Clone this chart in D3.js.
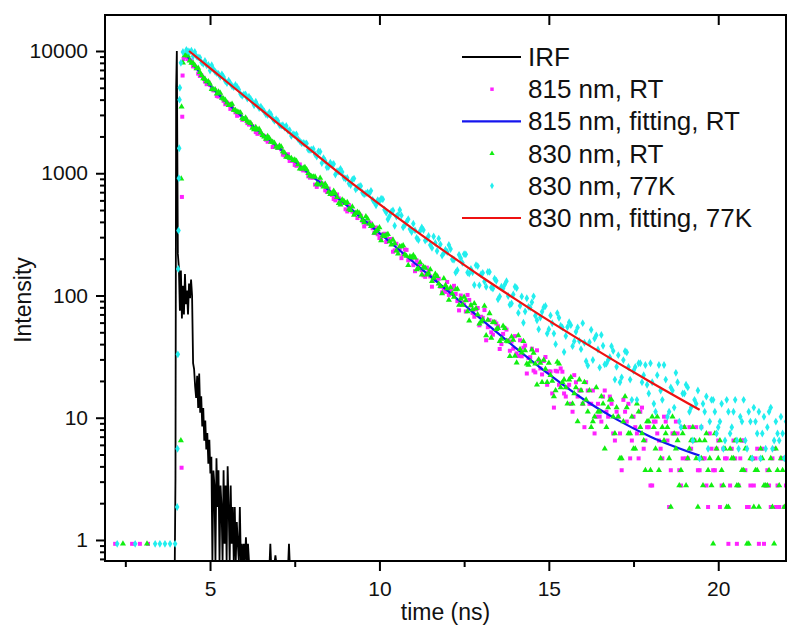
<!DOCTYPE html>
<html>
<head>
<meta charset="utf-8">
<script src="https://cdn.jsdelivr.net/npm/d3@7"></script>
<style>
  body { margin: 0; background: #fff; }
  svg { display: block; font-family: "Liberation Sans", Arial, sans-serif; }
</style>
</head>
<body>
<div id="chart"></div>
<script>
// decay channels: 4.3 … 22.0 ns and the in-between channels 4.35 … 21.95 ns
const decayTimes = d3.range(178).map(i => +(4.3 + i * 0.1).toFixed(2));
const midTimes = d3.range(177).map(i => +(4.35 + i * 0.1).toFixed(2));

// 815 nm, RT (magenta squares)
const rt815 = [
    8910, 8440, 7490, 7230, 6250, 6040, 5350, 5280, 4760, 4290,
    4300, 3910, 3780, 3360, 3310, 2950, 2990, 2760, 2570, 2520,
    2320, 2100, 2120, 2010, 1810, 1830, 1670, 1610, 1570, 1400,
    1430, 1284, 1170, 1180, 1080, 1070, 944, 935, 807, 862,
    797, 724, 748, 665, 600, 624, 588, 507, 548, 486,
    469, 465, 407, 389, 396, 355, 360, 295, 316, 274,
    279, 228, 265, 243, 216, 236, 202, 177, 193, 181,
    146, 169, 143, 140, 143, 118, 114, 129, 110, 120,
    90, 100, 84, 101, 83, 67, 79, 67, 76, 55,
    50, 61, 56, 40, 54, 43, 42, 46.5, 32, 31.8,
    39, 30.8, 36.7, 23.5, 29.3, 22.6, 31.4, 23.9, 15.8, 24.2,
    18.6, 23.8, 14.9, 18.6, 11.2, 19.5, 16.7, 13.0, 19.5, 13.0,
    16.7, 10.2, 10.2, 14.9, 11.2, 14.9, 7.44, 11.2, 7.44, 14.0,
    9.3, 4.65, 10.2, 7.44, 11.2, 5.58, 8.37, 2.79, 9.3, 7.44,
    5.58, 10.2, 6.51, 3.72, 7.44, 7.44, 2.79, 8.37, 4.65, 5.58,
    6.51, 3.72, 8.37, 4.65, 1.86, 5.58, 3.72, 6.51, 2.79, 4.65,
    0.93, 5.58, 4.65, 2.79, 6.51, 3.72, 1.86, 4.65, 4.65, 0.93,
    5.58, 2.79, 2.79, 4.65, 1.86, 1.86, 4.65, 2.79
];
const rt815Mid = [
    8590, 8250, 7490, 6530, 6290, 5630, 5550,
    4920, 4780, 4240, 4140, 3670, 3700, 3520, 3150, 3010, 2740,
    2790, 2500, 2430, 2170, 2200, 2040, 1880, 1880, 1640, 1660,
    1620, 1420, 1380, 1260, 1260, 1150, 1180, 1055, 1040, 920,
    917, 773, 843, 822, 704, 689, 616, 670, 578, 571,
    487, 522, 473, 430, 448, 367, 388, 388, 324, 317,
    294, 320, 290, 290, 234, 233, 202, 238, 194, 197,
    158, 182, 161, 142, 158, 118, 133, 137, 106, 107,
    101, 115, 103, 75.5, 88, 74, 92, 72, 77, 57,
    65.6, 43, 62.8, 47.8, 59, 36.5, 48.5, 52.6, 35.3, 36.7,
    33.6, 43, 37.4, 23, 31.3, 24.3, 35.6, 25.3, 29.1, 18.6,
    23.9, 12.1, 23.9, 25.3, 15.8, 17.7, 13.0, 22.3, 14.9, 16.7,
    8.37, 16.7, 13.0, 7.44, 13.0, 9.3, 16.7, 10.2, 13.0, 6.51,
    10.2, 3.72, 11.2, 13.0, 6.51, 8.37, 4.65, 12.1, 6.51, 8.37,
    2.79, 9.3, 6.51, 4.65, 9.3, 1.86, 7.44, 9.3, 3.72, 4.65,
    4.65, 8.37, 6.51, 8.37, 3.72, 4.65, 2.79, 7.44, 3.72, 5.58,
    1.86, 5.58, 4.65, 2.79, 6.51, 0.93, 4.65, 6.51, 1.86, 2.79,
    2.79, 5.58, 4.65, 0.93, 3.72, 1.86, 5.58, 2.79, 4.65, 1.86
];

// 830 nm, RT (green triangles)
const rt830 = [
    9400, 8340, 7970, 7200, 6710, 5950, 5630, 5370, 4840, 4460,
    4540, 4070, 3770, 3610, 3290, 3190, 3120, 2770, 2680, 2570,
    2280, 2270, 2150, 1990, 2010, 1800, 1770, 1610, 1650, 1470,
    1350, 1324, 1290, 1180, 1090, 1120, 1000, 940, 936, 804,
    825, 816, 702, 686, 681, 569, 607, 568, 511, 533,
    473, 473, 413, 442, 387, 376, 336, 360, 310, 313,
    277, 285, 232, 252, 256, 210, 208, 213, 163, 186,
    172, 148, 163, 139, 144, 119, 138, 114, 116, 97,
    113, 94, 97, 74, 83, 86, 70, 61, 82, 63,
    45, 60, 54, 44, 54, 42, 46, 32, 47, 34,
    35.5, 27, 36, 27.7, 30, 19.5, 25, 28, 20, 16.7,
    27.6, 19.5, 17.7, 20.5, 13.0, 17.7, 20.5, 13.0, 14.0, 16.7,
    9.3, 17.7, 11.2, 13.0, 8.37, 14.0, 10.2, 12.1, 4.65, 9.3,
    12.1, 7.44, 5.58, 13.0, 8.37, 6.51, 9.3, 3.72, 8.37, 10.2,
    4.65, 6.51, 8.37, 1.86, 7.44, 6.51, 3.72, 8.37, 4.65, 6.51,
    6.51, 1.86, 4.65, 6.51, 3.72, 2.79, 7.44, 4.65, 3.72, 5.58,
    1.86, 4.65, 6.51, 2.79, 3.72, 5.58, 0.93, 4.65, 3.72, 1.86,
    4.65, 2.79, 3.72, 1.86, 5.58, 2.79, 3.72, 1.86
];
const rt830Mid = [
    9150, 7970, 7640, 7270, 6320, 5890, 5620,
    4860, 4850, 4640, 4130, 3980, 3600, 3680, 3270, 3150, 2830,
    2850, 2600, 2340, 2380, 2300, 2050, 1910, 1930, 1800, 1650,
    1680, 1505, 1360, 1330, 1280, 1260, 1090, 1105, 1075, 955,
    935, 818, 914, 777, 770, 672, 715, 637, 552, 592,
    580, 498, 456, 482, 444, 396, 424, 369, 324, 347,
    282, 305, 317, 260, 266, 219, 252, 216, 177, 205,
    204, 166, 148, 168, 152, 131, 150, 125, 104, 121,
    92, 104, 112, 83.7, 83.7, 91, 62, 76.9, 78.2, 58.8,
    63.5, 47.1, 71.4, 60.4, 53, 42.2, 56.2, 42.4, 31.8, 43.3,
    28.2, 36.4, 42.3, 27.6, 28.7, 33.9, 18.6, 28, 29.6, 19.5,
    22.3, 14.9, 28.6, 17.7, 20.5, 13.0, 21.4, 15.8, 9.3, 16.7,
    19.5, 11.2, 8.37, 10.2, 11.2, 14.9, 5.58, 12.1, 14.0, 7.44,
    10.2, 4.65, 14.9, 7.44, 10.2, 5.58, 11.2, 7.44, 3.72, 9.3,
    10.2, 5.58, 3.72, 8.37, 7.44, 4.65, 10.2, 5.58, 2.79, 7.44,
    2.79, 5.58, 8.37, 4.65, 6.51, 2.79, 7.44, 4.65, 0.93, 5.58,
    6.51, 2.79, 1.86, 5.58, 4.65, 2.79, 6.51, 3.72, 0.93, 4.65,
    1.86, 3.72, 5.58, 2.79, 2.79, 4.65, 0.93, 3.72, 4.65, 1.86
];

// 830 nm, 77K (cyan)
const k77830 = [
    10200, 9800, 9060, 9040, 8830, 7870, 7640, 6910, 7100, 6590,
    6150, 6130, 5470, 5450, 5060, 5080, 4440, 4410, 4080, 4050,
    3600, 3600, 3500, 3200, 2990, 3020, 2690, 2690, 2450, 2370,
    2230, 2020, 2060, 1900, 1770, 1750, 1560, 1560, 1430, 1510,
    1210, 1260, 1130, 1180, 977, 1034, 1023, 901, 823, 886,
    738, 779, 692, 683, 678, 606, 547, 590, 612, 477,
    446, 496, 443, 500, 362, 401, 350, 387, 295, 337,
    343, 289, 259, 304, 231, 262, 222, 227, 240, 196,
    161, 202, 218, 154, 165, 122, 174, 149, 130, 156,
    116, 137, 93, 118, 123, 99, 86, 118, 72, 98,
    74, 80.7, 88, 68.4, 53, 73.7, 82, 53, 59.3, 40,
    65.8, 54.8, 46.6, 60.5, 38.5, 50.5, 42.5, 59.4, 29, 41.4,
    29.7, 47.2, 25.7, 38.8, 27.7, 31.3, 35.2, 26.1, 19.5, 29.6,
    34.3, 20.5, 24.2, 14.0, 27.9, 22.3, 18.6, 27.9, 13.0, 22.3,
    16.7, 27.0, 10.2, 17.7, 12.1, 19.5, 8.37, 15.8, 17.7, 12.1,
    14.0, 16.7, 8.37, 11.2, 5.58, 14.0, 11.2, 8.37, 13.0, 6.51,
    11.2, 8.37, 14.0, 5.58, 9.3, 6.51, 11.2, 4.65, 9.3, 11.2,
    7.44, 5.58, 11.2, 5.58, 9.3, 6.51, 7.44, 9.3
];
const k77830Mid = [
    9940, 10070, 9830, 8860, 8070, 8290, 7680,
    7650, 6760, 6490, 6440, 5670, 5720, 5160, 5280, 4830, 4300,
    4410, 4230, 3840, 3840, 3410, 3340, 3030, 3150, 2800, 2770,
    2480, 2470, 2440, 2250, 2090, 2080, 1830, 1770, 1750, 1550,
    1580, 1370, 1500, 1330, 1120, 1220, 1190, 1038, 1086, 919,
    916, 802, 904, 763, 786, 674, 695, 718, 578, 603,
    618, 503, 420, 484, 372, 456, 452, 376, 420, 330,
    341, 284, 360, 282, 307, 245, 269, 292, 212, 237,
    259, 198, 154, 215, 185, 217, 151, 155, 177, 121,
    153, 118, 156, 114, 132, 98, 114, 131, 84, 102,
    115, 82.5, 59.8, 95, 79.6, 98.4, 62.8, 66.1, 80.1, 48.8,
    68.7, 48.8, 71.8, 56.5, 34.5, 55.3, 57.2, 42.3, 54.8, 36.4,
    41.1, 26.7, 52.4, 44.5, 36.2, 47.6, 27.3, 29.7, 38.4, 20.5,
    32.5, 21.4, 35, 26.0, 14.0, 26.0, 27.9, 19.5, 27.0, 15.8,
    19.5, 11.2, 27.0, 14.0, 20.5, 11.2, 16.7, 23.3, 9.3, 15.8,
    18.6, 11.2, 6.51, 13.0, 4.65, 13.0, 14.9, 9.3, 14.0, 7.44,
    9.3, 5.58, 14.0, 7.44, 11.2, 6.51, 10.2, 14.0, 5.58, 9.3,
    12.1, 7.44, 4.65, 10.2, 8.37, 12.1, 6.51, 7.44, 10.2, 4.65
];

// channels before and on the rising edge [time, intensity]
const edge815 = [[2.2, 0.93], [2.7, 0.93], [2.93, 0.93], [3.17, 0.93],
    [4.16, 3.9], [4.17, 640], [4.18, 2900], [4.19, 6300], [4.22, 8600]];
const edge830 = [[2.43, 0.93], [3.14, 0.93],
    [4.14, 6.5], [4.15, 900], [4.16, 3500], [4.2, 8000], [4.25, 9200]];
const edge77K = [[2.26, 0.93], [2.79, 0.93], [3.38, 0.93], [3.52, 0.93], [3.67, 0.93],
    [3.82, 0.93], [3.97, 0.93], [4.03, 1.86], [4.04, 5.58], [4.05, 33], [4.06, 165],
    [4.07, 340], [4.08, 910], [4.09, 1600], [4.1, 4000], [4.11, 5000], [4.14, 8000], [4.2, 9800]];

// instrument response function [time, intensity], 0 = no count
const irf = [
    [3.96, 0], [3.98, 3.2], [4.0, 5000], [4.02, 10000], [4.05, 220], [4.08, 170], [4.11, 75],
    [4.14, 160], [4.17, 65], [4.2, 120], [4.23, 70], [4.26, 150], [4.29, 85], [4.32, 110],
    [4.35, 70], [4.38, 125], [4.41, 95], [4.44, 135], [4.47, 100], [4.5, 28], [4.53, 25],
    [4.56, 18], [4.59, 14.5], [4.62, 22], [4.65, 12], [4.68, 23], [4.71, 11], [4.74, 15],
    [4.77, 8.5], [4.8, 12], [4.83, 6.5], [4.86, 9.5], [4.89, 5.5], [4.92, 7.5], [4.95, 4.2],
    [4.98, 6.6], [5.01, 3.5], [5.04, 4.8], [5.07, 0], [5.1, 3.7], [5.13, 2.8], [5.16, 0],
    [5.19, 4.65], [5.22, 1.86], [5.25, 3.72], [5.28, 0], [5.31, 2.79], [5.34, 1.86], [5.37, 0],
    [5.4, 3.72], [5.43, 0.93], [5.46, 2.79], [5.49, 0], [5.52, 4.0], [5.55, 1.86], [5.58, 0],
    [5.61, 2.79], [5.64, 0.93], [5.67, 1.86], [5.7, 0], [5.73, 1.86], [5.76, 0], [5.79, 1.4],
    [5.82, 0.93], [5.85, 0], [5.88, 1.86], [5.91, 0], [5.94, 0.93], [5.97, 0], [6.0, 0.93],
    [6.03, 0], [6.06, 1.05], [6.09, 0], [6.12, 0.93], [6.15, 0], [6.76, 0], [6.78, 0.93],
    [6.8, 0], [6.91, 0], [6.93, 0.75], [6.95, 0], [7.31, 0], [7.33, 0.93], [7.35, 0]
];

// fitted curves
const fit815T = [4.3, 5, 6, 7, 8, 9, 10, 11, 12, 13, 14, 15, 16, 17, 18, 19.45];
const fit815V = [9330, 5250, 2820, 1640, 955, 556, 324, 188, 110, 64, 37.7, 22.7, 14.3, 9.7, 7.0, 4.9];
const fit77KT = [4.38, 5, 6, 7, 8, 9.13, 10, 11, 12, 13, 14, 15, 16, 17, 18, 19.45];
const fit77KV = [10000, 7240, 4306, 2559, 1521, 853, 558, 349, 222, 143, 93.8, 62.2, 41.9, 28.5, 19.6, 11.6];

const xMajor = [5, 10, 15, 20];
const xMinor = [2.5, 7.5, 12.5, 17.5];
const yMajor = [1, 10, 100, 1000, 10000];

const legendItems = [
    { label: "IRF", kind: "line", color: "#000000" },
    { label: "815 nm, RT", kind: "square", color: "#ff22ff" },
    { label: "815 nm, fitting, RT", kind: "line", color: "#1515ee" },
    { label: "830 nm, RT", kind: "triangle", color: "#11ee11" },
    { label: "830 nm, 77K", kind: "diamond", color: "#22eeee" },
    { label: "830 nm, fitting, 77K", kind: "line", color: "#ee1111" }
];

const width = 800;
const height = 635;
const marginLeft = 105, marginRight = 786, marginTop = 15, marginBottom = 561;

const x = d3.scaleLinear().domain([1.9, 22]).range([marginLeft, marginRight]);
const y = d3.scaleLog().domain([0.673, 19700]).range([marginBottom, marginTop]);
const yMin = y.domain()[0];

const svg = d3.select("#chart").append("svg")
    .attr("width", width)
    .attr("height", height)
    .attr("viewBox", [0, 0, width, height]);

svg.append("defs").append("clipPath").attr("id", "plot")
    .append("rect")
    .attr("x", marginLeft).attr("y", marginTop)
    .attr("width", marginRight - marginLeft).attr("height", marginBottom - marginTop);

const plot = svg.append("g").attr("clip-path", "url(#plot)");

const pts = (times, vals) => times.map((t, i) => [t, vals[i]]);
const colorOf = label => legendItems.find(d => d.label === label).color;

// IRF line, zero counts go to the bottom edge
plot.append("path")
    .attr("fill", "none")
    .attr("stroke", "#000")
    .attr("stroke-width", 1.8)
    .attr("d", d3.line()
        .x(d => x(d[0]))
        .y(d => y(Math.max(d[1], yMin)))(irf));

// marker shapes (legend uses smaller ones)
const square = d3.symbol(d3.symbolSquare, 16);
const triangle = d3.symbol(d3.symbolTriangle, 16);
const diamond = d3.symbol(d3.symbolDiamond, 18);

function scatter(data, shape, color) {
    plot.append("g")
        .selectAll("path")
        .data(data.filter(d => d[1] > 0))
        .join("path")
        .attr("transform", d => `translate(${x(d[0])},${y(d[1])})`)
        .attr("d", shape)
        .attr("fill", color);
}

function fitLine(data, color) {
    plot.append("path")
        .attr("fill", "none")
        .attr("stroke", color)
        .attr("stroke-width", 2.2)
        .attr("d", d3.line()
            .curve(d3.curveMonotoneX)
            .x(d => x(d[0]))
            .y(d => y(d[1]))(data));
}

const series815 = edge815.concat(pts(decayTimes, rt815), pts(midTimes, rt815Mid));
const series830 = edge830.concat(pts(decayTimes, rt830), pts(midTimes, rt830Mid));
const series77K = edge77K.concat(pts(decayTimes, k77830), pts(midTimes, k77830Mid));

scatter(series815, square, colorOf("815 nm, RT"));
fitLine(pts(fit815T, fit815V), colorOf("815 nm, fitting, RT"));
scatter(series830, triangle, colorOf("830 nm, RT"));
scatter(series77K, diamond, colorOf("830 nm, 77K"));
fitLine(pts(fit77KT, fit77KV), colorOf("830 nm, fitting, 77K"));

// frame
svg.append("rect")
    .attr("x", marginLeft).attr("y", marginTop)
    .attr("width", marginRight - marginLeft).attr("height", marginBottom - marginTop)
    .attr("fill", "none")
    .attr("stroke", "#000")
    .attr("stroke-width", 2);

// bottom axis
const xAxis = svg.append("g").attr("transform", `translate(0,${marginBottom})`);
xAxis.call(d3.axisBottom(x).tickValues(xMajor).tickSize(10).tickPadding(10).tickFormat(d3.format("d")));
xAxis.append("g").call(d3.axisBottom(x).tickValues(xMinor).tickSize(6).tickFormat(""));
xAxis.selectAll(".domain").remove();
xAxis.selectAll("line").attr("stroke-width", 2);
xAxis.selectAll("text").attr("font-size", 21).attr("fill", "#111").attr("font-family", null);

// top axis, ticks inside
const xTop = svg.append("g").attr("transform", `translate(0,${marginTop})`);
xTop.call(d3.axisBottom(x).tickValues(xMajor).tickSize(10).tickFormat(""));
xTop.selectAll(".domain").remove();
xTop.selectAll("line").attr("stroke-width", 2);

// left axis, log minor ticks
const yMinor = [];
[0.1, 1, 10, 100, 1000].forEach(dec => {
    for (let k = 2; k <= 9; k++) {
        const v = dec * k;
        if (v >= yMin && v <= y.domain()[1]) yMinor.push(v);
    }
});
const yAxis = svg.append("g").attr("transform", `translate(${marginLeft},0)`);
yAxis.call(d3.axisLeft(y).tickValues(yMajor).tickSize(9).tickPadding(8).tickFormat(d3.format("d")));
yAxis.append("g").call(d3.axisLeft(y).tickValues(yMinor).tickSize(5).tickFormat(""));
yAxis.selectAll(".domain").remove();
yAxis.selectAll("line").attr("stroke-width", 2);
yAxis.selectAll("text").attr("font-size", 21).attr("fill", "#111").attr("font-family", null);

// axis titles
svg.append("text")
    .attr("x", (marginLeft + marginRight) / 2)
    .attr("y", 620)
    .attr("text-anchor", "middle")
    .attr("font-size", 23)
    .attr("fill", "#111")
    .text("time (ns)");

svg.append("text")
    .attr("transform", "rotate(-90)")
    .attr("x", -300)
    .attr("y", 31)
    .attr("text-anchor", "middle")
    .attr("font-size", 23)
    .attr("fill", "#111")
    .text("Intensity");

// legend
const legend = svg.append("g").attr("transform", "translate(462,57)");
const rows = legend.selectAll("g")
    .data(legendItems)
    .join("g")
    .attr("transform", (d, i) => `translate(0,${i * 32.2})`);

rows.filter(d => d.kind === "line").append("line")
    .attr("x1", 0).attr("x2", 59)
    .attr("stroke", d => d.color)
    .attr("stroke-width", 2.2);

const legendShapes = {
    square: d3.symbol(d3.symbolSquare, 12),
    triangle: d3.symbol(d3.symbolTriangle, 12),
    diamond: d3.symbol(d3.symbolDiamond, 13)
};
rows.filter(d => d.kind !== "line").append("path")
    .attr("transform", "translate(30,0)")
    .attr("d", d => legendShapes[d.kind]())
    .attr("fill", d => d.color);

rows.append("text")
    .attr("x", 66)
    .attr("y", 9)
    .attr("font-size", 26)
    .attr("fill", "#111")
    .text(d => d.label);
</script>
</body>
</html>
